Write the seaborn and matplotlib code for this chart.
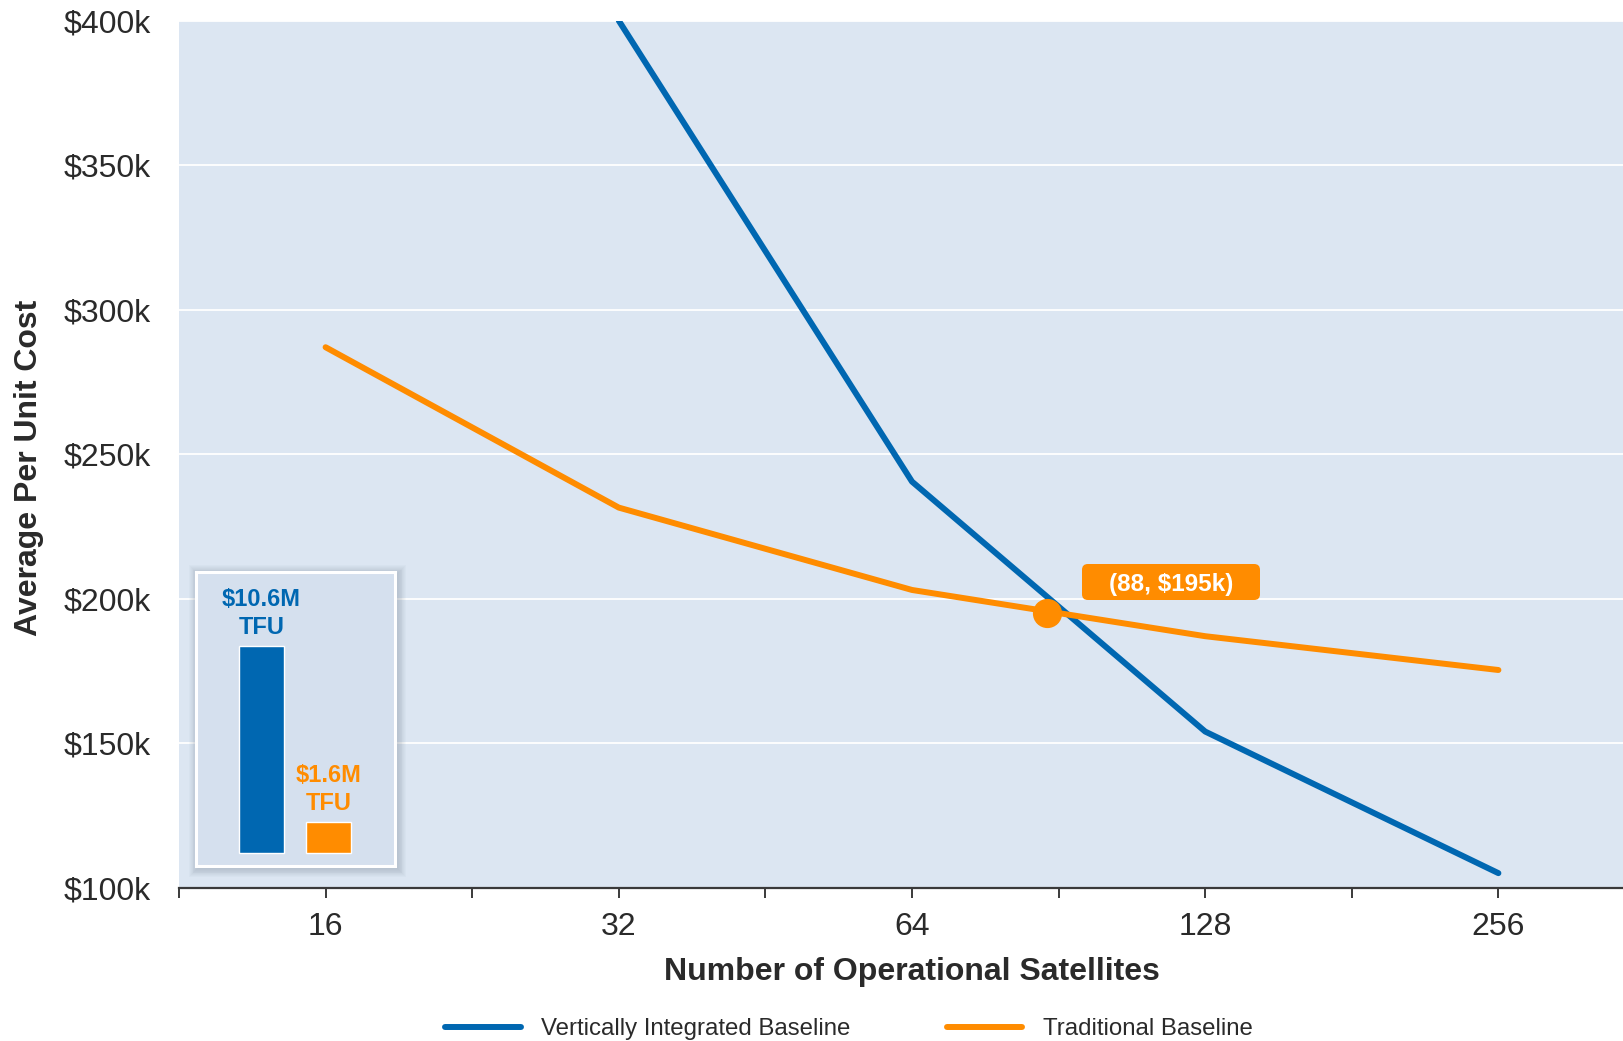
import numpy as np
import pandas as pd
import matplotlib
matplotlib.use("Agg")
import matplotlib.pyplot as plt
from matplotlib.patches import Rectangle, FancyBboxPatch
from matplotlib.ticker import FixedLocator, FuncFormatter, NullFormatter
import seaborn as sns

# ---- data -------------------------------------------------------------
satellites = [16, 32, 64, 128, 256]
vertically_integrated = [None, 400.0, 240.5, 154.0, 105.0]   # $k per unit
traditional = [287.0, 231.5, 203.0, 187.0, 175.3]            # $k per unit
series_names = ["Vertically Integrated Baseline", "Traditional Baseline"]

crossover_x = 88
crossover_y = 195.0
crossover_label = "(88, $195k)"

tfu_labels = ["$10.6M\nTFU", "$1.6M\nTFU"]
tfu_values = [10.6, 1.6]   # $M

y_ticks = [100, 150, 200, 250, 300, 350, 400]
x_major = [16, 32, 64, 128, 256]

# ---- styling ----------------------------------------------------------
BLUE = "#0067b1"
ORANGE = "#ff8c00"
BG = "#dce6f2"
INSET_BG = "#d5e0ee"
TEXT = "#2a2a2a"

sns.set_theme(style="white")
plt.rcParams["font.family"] = ["Liberation Sans", "DejaVu Sans"]

W, H = 1624, 1041
fig = plt.figure(figsize=(W / 100, H / 100), dpi=100)

ax_left, ax_right = 179, 1645
ax_top, ax_bottom = 20.7, 887.6
ax = fig.add_axes([ax_left / W, 1 - ax_bottom / H,
                   (ax_right - ax_left) / W, (ax_bottom - ax_top) / H])
ax.set_facecolor(BG)

rows = []
for name, vals in zip(series_names, [vertically_integrated, traditional]):
    for x, v in zip(satellites, vals):
        if v is not None:
            rows.append({"satellites": x, "cost": v, "series": name})
df = pd.DataFrame(rows)

ax.set_xscale("log", base=2)
sns.lineplot(data=df, x="satellites", y="cost", hue="series",
             palette=[BLUE, ORANGE], hue_order=series_names,
             linewidth=4.3, ax=ax, legend=False, zorder=3,
             solid_capstyle="round")

ax.plot([crossover_x], [crossover_y], marker="o", markersize=20,
        color=ORANGE, zorder=5, clip_on=False)

# callout box for the crossover point
ax_w = ax_right - ax_left
ax_h = ax_bottom - ax_top
bx0, bx1, by0, by1 = 1082, 1260, 564, 600
callout = FancyBboxPatch(
    ((bx0 - ax_left) / ax_w, (ax_bottom - by1) / ax_h),
    (bx1 - bx0) / ax_w, (by1 - by0) / ax_h,
    boxstyle="round,pad=0,rounding_size=0.004",
    mutation_aspect=ax_w / ax_h,
    transform=ax.transAxes, facecolor=ORANGE, edgecolor="none", zorder=6)
ax.add_patch(callout)
ax.text(((bx0 + bx1) / 2 - ax_left) / ax_w,
        (ax_bottom - (by0 + by1) / 2) / ax_h, crossover_label,
        transform=ax.transAxes, ha="center", va="center_baseline",
        fontsize=17.5, fontweight="bold", color="white", zorder=7)

ax.set_xlim(16 / np.sqrt(2), 256 * np.sqrt(2))
ax.set_ylim(100, 400)

# y axis
ax.set_yticks(y_ticks)
ax.yaxis.set_major_formatter(FuncFormatter(lambda v, p: f"${v:.0f}k"))
ax.tick_params(axis="y", length=0, pad=20, labelsize=23, labelcolor=TEXT)
ax.grid(axis="y", color="white", linewidth=1.3, zorder=1)
ax.set_axisbelow(True)

# x axis: labelled octaves plus unlabelled half-octave ticks
minor = [16 / np.sqrt(2) * 2 ** k for k in range(6)]
ax.xaxis.set_major_locator(FixedLocator(x_major))
ax.xaxis.set_major_formatter(FuncFormatter(lambda v, p: f"{v:.0f}"))
ax.xaxis.set_minor_locator(FixedLocator(minor))
ax.xaxis.set_minor_formatter(NullFormatter())
ax.tick_params(axis="x", which="both", direction="out", length=7.5,
               width=1.4, color="#3a3a3a", bottom=True, labelsize=23,
               labelcolor=TEXT, pad=10)
ax.grid(axis="x", visible=False)

for s in ["top", "right", "left"]:
    ax.spines[s].set_visible(False)
ax.spines["bottom"].set_color("#3a3a3a")
ax.spines["bottom"].set_linewidth(1.6)

ax.set_xlabel("Number of Operational Satellites", fontsize=23,
              fontweight="bold", color=TEXT, labelpad=11)
ax.set_ylabel("Average Per Unit Cost", fontsize=23, fontweight="bold",
              color=TEXT)
ax.yaxis.set_label_coords(-0.0918, 0.484)

# legend
handles = [plt.Line2D([], [], color=BLUE, linewidth=4.3),
           plt.Line2D([], [], color=ORANGE, linewidth=4.3)]
fig.legend(handles, series_names, loc="center",
           bbox_to_anchor=(849 / W, 1 - 1029 / H), ncol=2, frameon=False,
           fontsize=17.3, handlelength=3.15, handletextpad=0.85,
           columnspacing=4.0, labelcolor=TEXT)

# ---- inset with TFU bars ---------------------------------------------
in_l, in_t, in_r, in_b = 196, 572, 395, 866
# soft drop shadow behind the inset panel
for i in range(10, 0, -1):
    pad = i * 0.9
    fig.patches.append(Rectangle(
        ((in_l - pad + 2) / W, 1 - (in_b + pad + 2) / H),
        (in_r - in_l + 2 * pad) / W, (in_b - in_t + 2 * pad) / H,
        transform=fig.transFigure, facecolor="#7f8a99",
        edgecolor="none", alpha=0.045, zorder=8))

iax = fig.add_axes([in_l / W, 1 - in_b / H, (in_r - in_l) / W,
                    (in_b - in_t) / H], zorder=10)
iax.set_facecolor(INSET_BG)
tfu_df = pd.DataFrame({"kind": ["vi", "trad"], "tfu": tfu_values})
sns.barplot(data=tfu_df, x="kind", y="tfu", hue="kind",
            palette=[BLUE, ORANGE], width=0.67, ax=iax, legend=False,
            saturation=1)
iax.set_xlim(-0.978, 1.99)
iax.set_ylim(-0.68, 14.39)
iax.set_xticks([])
iax.set_yticks([])
iax.set_xlabel("")
iax.set_ylabel("")
for s in iax.spines.values():
    s.set_visible(True)
    s.set_color("white")
    s.set_linewidth(2.2)
for i, (lab, val, col) in enumerate(zip(tfu_labels, tfu_values,
                                        [BLUE, ORANGE])):
    iax.annotate(lab, (i, val), xytext=(0, 5), textcoords="offset points",
                 ha="center", va="bottom", fontsize=17, fontweight="bold",
                 color=col, linespacing=1.25)

fig.savefig("out.png", dpi=100, facecolor="white")
